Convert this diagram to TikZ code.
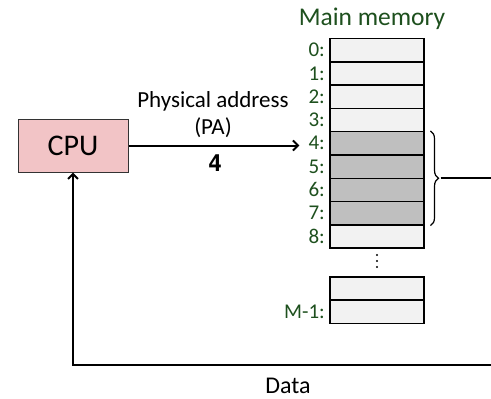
\documentclass[tikz,border=0pt]{standalone}
\usepackage{fontspec}
\setmainfont{Carlito}
\newfontfamily\monofont{DejaVu Sans Mono}
\usetikzlibrary{arrows.meta,decorations.pathreplacing}
\definecolor{memgreen}{RGB}{30,80,30}
\definecolor{cpupink}{RGB}{242,196,198}
\definecolor{celllight}{RGB}{242,242,242}
\definecolor{celldark}{RGB}{191,191,191}
\tikzset{
  cell/.style={draw=black, line width=1.5pt, minimum width=94pt, minimum height=23.3pt, inner sep=0pt, anchor=north west},
  lightcell/.style={cell, fill=celllight},
  darkcell/.style={cell, fill=celldark},
  addr/.style={text=memgreen, font=\fontsize{21}{21}\selectfont, anchor=east, inner sep=0pt},
  wire/.style={line width=2pt},
  tip/.style={-{Straight Barb[length=5pt,width=10pt,line width=2pt]}},
  dot/.style={circle, fill=black, inner sep=0pt, minimum size=2.2pt},
}
\begin{document}
\begin{tikzpicture}[x=1pt,y=-1pt]
  \useasboundingbox (0,0) rectangle (491,399);

  % processor
  \node[draw=black!80, line width=1pt, fill=cpupink, minimum width=110pt, minimum height=53pt,
        font=\fontsize{30}{30}\selectfont, inner sep=0pt] (cpu) at (73,145.5) {CPU};

  % memory title
  \node[text=memgreen, font=\fontsize{25.5}{25.5}\selectfont] (title) at (372,19) {Main memory};

  % memory cells 0..8
  \foreach \i in {0,...,8} {
    \pgfmathsetmacro{\yy}{37.7+23.3*\i}
    \ifnum\i<4
      \node[lightcell] (c\i) at (329,\yy) {};
    \else\ifnum\i<8
      \node[darkcell] (c\i) at (329,\yy) {};
    \else
      \node[lightcell] (c\i) at (329,\yy) {};
    \fi\fi
    \node[addr] (l\i) at ([xshift=-4pt]c\i.west) {\i:};
  }

  % vertical ellipsis
  \node[dot] (d1) at (377,255) {};
  \node[dot] (d2) at (377,261) {};
  \node[dot] (d3) at (377,267) {};

  % last two cells
  \node[lightcell] (cm2) at (329,276) {};
  \node[lightcell] (cm1) at (329,299.3) {};
  \node[addr] (lm1) at ([xshift=-4pt]cm1.west) {M-1:};

  % brace round the four addressed cells
  \draw[line width=1.2pt, decorate, decoration={brace, amplitude=8pt, raise=6pt}]
    (c4.north east) -- coordinate[pos=0.5] (bmid) (c7.south east);
  \coordinate (bt) at ([xshift=16pt]bmid);
  \coordinate (bend) at (491,0 |- bmid);
  \draw[wire] (bt) -- (bend);

  % address bus
  \draw[wire, tip] (cpu.east) -- ([xshift=-9pt]l4.west |- cpu.east) coordinate (pahead);
  \node[font=\fontsize{23}{23}\selectfont, inner sep=0pt] (pa1) at (213,101) {Physical address};
  \node[font=\fontsize{23}{23}\selectfont, inner sep=0pt] (pa2) at (213,128) {(PA)};
  \node[font=\monofont\bfseries\fontsize{23}{23}\selectfont, inner sep=0pt] (pa3) at (215,163) {4};

  % data bus back to the processor
  \coordinate (dright) at (491,364.5);
  \coordinate (dcorner) at (cpu.south |- dright);
  \draw[wire, tip] (dright) -- (dcorner) -- (cpu.south);
  \node[font=\fontsize{24}{24}\selectfont, inner sep=0pt] (data) at (288,385.5) {Data};
\end{tikzpicture}
\end{document}
